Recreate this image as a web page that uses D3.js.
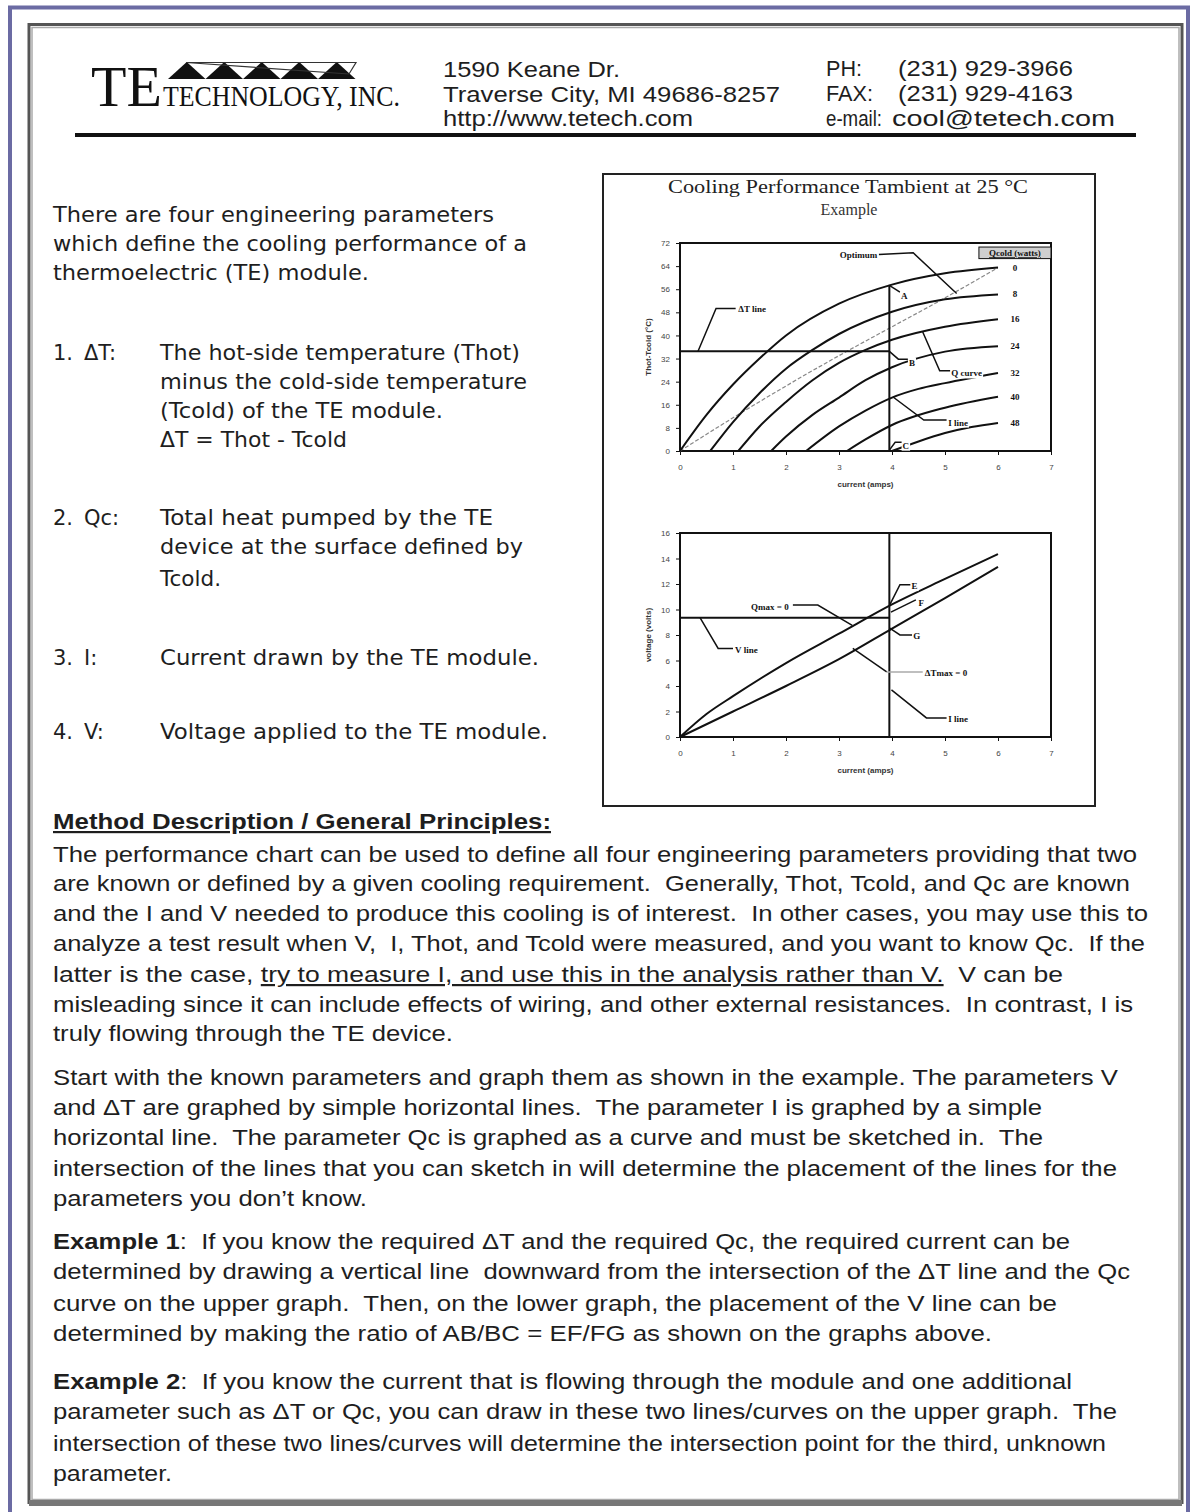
<!DOCTYPE html>
<html>
<head>
<meta charset="utf-8">
<script src="https://cdn.jsdelivr.net/npm/d3@7"></script>
<style>
  body { margin: 0; background: #fff; }
  .doc { font-family: "DejaVu Sans", Verdana, sans-serif; font-size: 21px; fill: #1e1e1e; }
  .body { font-family: "Liberation Sans", Arial, sans-serif; font-size: 22px; fill: #1e1e1e; }
  .tick text { font-family: "Liberation Sans", Arial, sans-serif; font-size: 8px; fill: #444; }
  .ann { font-family: "Liberation Serif", "Times New Roman", serif; font-size: 9px; font-weight: bold; fill: #111; }
</style>
</head>
<body>
<div id="page"></div>
<script>
var width = 1191,
    height = 1512;

// ---- chart data ----
var currentTicks = [0, 1, 2, 3, 4, 5, 6, 7];
var dtTicks = [0, 8, 16, 24, 32, 40, 48, 56, 64, 72];
var voltTicks = [0, 2, 4, 6, 8, 10, 12, 14, 16];
var qcLevels = [0, 8, 16, 24, 32, 40, 48];

// Qc curves: [current, deltaT]
var qc0 = [[0, 0], [0.5, 12.5], [1, 23], [1.5, 32], [2, 40], [3, 51], [4, 57.6], [5, 61.5], [6, 63.5]];
var qc8 = [[0.57, 0], [1, 10], [1.5, 20], [2, 28.5], [2.5, 35], [3, 40.5], [4, 48.2], [5, 52.5], [6, 54.2]];
var qc16 = [[1.1, 0], [1.5, 8.5], [2, 17], [2.5, 24.5], [3, 30.5], [3.5, 35], [4, 38.5], [5, 43], [6, 45.6]];
var qc24 = [[1.72, 0], [2, 5], [2.5, 12.5], [3, 18.5], [3.5, 24.5], [4, 29], [5, 34.4], [6, 36.3]];
var qc32 = [[2.38, 0], [3, 8.5], [3.5, 14], [4, 18.5], [4.5, 21.5], [5, 23.5], [6, 27]];
var qc40 = [[3.15, 0], [3.5, 4], [4, 9], [5, 15], [6, 18.8]];
var qc48 = [[4.0, 0], [4.5, 3.3], [5, 6.2], [5.5, 8.3], [6, 9.7]];
var qcCurves = [qc0, qc8, qc16, qc24, qc32, qc40, qc48];

var optimum = [[0, 0], [1, 11.5], [2, 22.5], [3, 33], [4, 43], [5, 53], [6, 63.5]];

// voltage lines: [current, volts]
var qmaxZero = [[0, 0], [0.5, 1.8], [1, 3.2], [2, 5.8], [3, 8.1], [4, 10.4], [5, 12.4], [6, 14.35]];
var dtmaxZero = [[0, 0], [1, 2.0], [2, 4.0], [3, 6.1], [4, 8.5], [5, 10.9], [6, 13.35]];

var iLine = 3.95,
    iLineTop = 57.5,
    dtLine = 34.5,
    vLine = 9.35;

// ---- page text ----
var addressLines = ['1590 Keane Dr.', 'Traverse City, MI 49686-8257', 'http://www.tetech.com'];
var contactLabels = ['PH:', 'FAX:', 'e-mail:'];
var contactValues = ['(231) 929-3966', '(231) 929-4163', 'cool@tetech.com'];

var introLines = [
    ['There are four engineering parameters', 222, 441],
    ['which define the cooling performance of a', 251, 474],
    ['thermoelectric (TE) module.', 280, 316]
];
var paramItems = [
    { num: '1.', key: '\u0394T:', y: 360, lines: [
        ['The hot-side temperature (Thot)', 360, 360],
        ['minus the cold-side temperature', 389, 367],
        ['(Tcold) of the TE module.', 418, 283],
        ['\u0394T = Thot - Tcold', 447, 187]] },
    { num: '2.', key: 'Qc:', y: 525, lines: [
        ['Total heat pumped by the TE', 525, 333],
        ['device at the surface defined by', 554, 363],
        ['Tcold.', 586, 61]] },
    { num: '3.', key: 'I:', y: 665, lines: [
        ['Current drawn by the TE module.', 665, 379]] },
    { num: '4.', key: 'V:', y: 739, lines: [
        ['Voltage applied to the TE module.', 739, 388]] }
];

var methodLines = [
    [[['The performance chart can be used to define all four engineering parameters providing that two']], 862, 1084],
    [[['are known or defined by a given cooling requirement.  Generally, Thot, Tcold, and Qc are known']], 891, 1077],
    [[['and the I and V needed to produce this cooling is of interest.  In other cases, you may use this to']], 921, 1095],
    [[['analyze a test result when V,  I, Thot, and Tcold were measured, and you want to know Qc.  If the']], 951, 1092],
    [[['latter is the case, '], ['try to measure I, and use this in the analysis rather than V.', 'u'], ['  V can be']], 982, 1010],
    [[['misleading since it can include effects of wiring, and other external resistances.  In contrast, I is']], 1012, 1080],
    [[['truly flowing through the TE device.']], 1041, 400],
    [[['Start with the known parameters and graph them as shown in the example. The parameters V']], 1085, 1065],
    [[['and \u0394T are graphed by simple horizontal lines.  The parameter I is graphed by a simple']], 1115, 989],
    [[['horizontal line.  The parameter Qc is graphed as a curve and must be sketched in.  The']], 1145, 990],
    [[['intersection of the lines that you can sketch in will determine the placement of the lines for the']], 1176, 1064],
    [[['parameters you don\u2019t know.']], 1206, 314],
    [[['Example 1', 'b'], [':  If you know the required \u0394T and the required Qc, the required current can be']], 1249, 1017],
    [[['determined by drawing a vertical line  downward from the intersection of the \u0394T line and the Qc']], 1279, 1077],
    [[['curve on the upper graph.  Then, on the lower graph, the placement of the V line can be']], 1311, 1004],
    [[['determined by making the ratio of AB/BC = EF/FG as shown on the graphs above.']], 1341, 939],
    [[['Example 2', 'b'], [':  If you know the current that is flowing through the module and one additional']], 1389, 1019],
    [[['parameter such as \u0394T or Qc, you can draw in these two lines/curves on the upper graph.  The']], 1419, 1064],
    [[['intersection of these two lines/curves will determine the intersection point for the third, unknown']], 1451, 1053],
    [[['parameter.']], 1481, 119]
];

var svg = d3.select('#page')
    .append('svg')
    .attr('width', width)
    .attr('height', height);

// ---- page frames ----
svg.append('rect')
    .attr('x', 10).attr('y', 7.5)
    .attr('width', 1178).attr('height', 1512)
    .attr('fill', 'none')
    .attr('stroke', '#6b6ba3')
    .attr('stroke-width', 4);

svg.append('rect')
    .attr('x', 29).attr('y', 24.5)
    .attr('width', 1153).attr('height', 1478)
    .attr('fill', '#fff')
    .attr('stroke', '#555')
    .attr('stroke-width', 3);

svg.append('rect')
    .attr('x', 32).attr('y', 27.5)
    .attr('width', 1147).attr('height', 1472)
    .attr('fill', 'none')
    .attr('stroke', '#aaa')
    .attr('stroke-width', 1.5);

svg.append('rect')
    .attr('x', 29).attr('y', 1500)
    .attr('width', 1153).attr('height', 6)
    .attr('fill', '#777');

// ---- header ----
var head = svg.append('g');

head.append('text')
    .attr('x', 91).attr('y', 106)
    .attr('font-family', '"Liberation Serif", "Times New Roman", serif')
    .attr('font-size', 58)
    .attr('fill', '#111')
    .text('TE');

head.append('text')
    .attr('x', 163).attr('y', 106)
    .attr('font-family', '"Liberation Serif", "Times New Roman", serif')
    .attr('font-size', 30)
    .attr('fill', '#111')
    .attr('textLength', 237)
    .attr('lengthAdjust', 'spacingAndGlyphs')
    .text('TECHNOLOGY, INC.');

var triW = 37.5;
head.selectAll('.tri')
    .data(d3.range(5))
    .enter()
    .append('path')
    .attr('class', 'tri')
    .attr('d', function (d) {
        var x0 = 168 + d * triW;
        return 'M' + x0 + ',79L' + (x0 + triW / 2) + ',62L' + (x0 + triW) + ',79Z';
    })
    .attr('fill', '#111');

head.append('path')
    .attr('d', 'M186,62.5L356,62.5L349,74Z')
    .attr('fill', 'none')
    .attr('stroke', '#333')
    .attr('stroke-width', 1.2);

var addrW = [177, 337, 250];
head.selectAll('.addr')
    .data(addressLines)
    .enter()
    .append('text')
    .attr('class', 'addr')
    .attr('x', 443)
    .attr('y', function (d, i) { return 77 + i * 24.5; })
    .attr('font-family', '"Liberation Sans", Arial, sans-serif')
    .attr('font-size', 22)
    .attr('fill', '#1e1e1e')
    .attr('textLength', function (d, i) { return addrW[i]; })
    .attr('lengthAdjust', 'spacingAndGlyphs')
    .text(function (d) { return d; });

var labW = [36, 47, 56];
head.selectAll('.clab')
    .data(contactLabels)
    .enter()
    .append('text')
    .attr('class', 'clab')
    .attr('x', 826)
    .attr('y', function (d, i) { return 76 + i * 25; })
    .attr('font-family', '"Liberation Sans", Arial, sans-serif')
    .attr('font-size', 22)
    .attr('fill', '#1e1e1e')
    .attr('textLength', function (d, i) { return labW[i]; })
    .attr('lengthAdjust', 'spacingAndGlyphs')
    .text(function (d) { return d; });

var valX = [898, 898, 892],
    valW = [175, 175, 223];
head.selectAll('.cval')
    .data(contactValues)
    .enter()
    .append('text')
    .attr('class', 'cval')
    .attr('x', function (d, i) { return valX[i]; })
    .attr('y', function (d, i) { return 76 + i * 25; })
    .attr('font-family', '"Liberation Sans", Arial, sans-serif')
    .attr('font-size', 22)
    .attr('fill', '#1e1e1e')
    .attr('textLength', function (d, i) { return valW[i]; })
    .attr('lengthAdjust', 'spacingAndGlyphs')
    .text(function (d) { return d; });

head.append('line')
    .attr('x1', 75).attr('x2', 1136)
    .attr('y1', 135).attr('y2', 135)
    .attr('stroke', '#111')
    .attr('stroke-width', 4);

// ---- left-hand text ----
var doc = svg.append('g').attr('class', 'doc');

doc.selectAll('.intro')
    .data(introLines)
    .enter()
    .append('text')
    .attr('x', 53)
    .attr('y', function (d) { return d[1]; })
    .attr('textLength', function (d) { return d[2]; })
    .attr('lengthAdjust', 'spacingAndGlyphs')
    .text(function (d) { return d[0]; });

paramItems.forEach(function (p) {
    doc.append('text').attr('x', 53).attr('y', p.y).text(p.num);
    doc.append('text').attr('x', 84).attr('y', p.y).text(p.key);
    p.lines.forEach(function (l) {
        doc.append('text')
            .attr('x', 160)
            .attr('y', l[1])
            .attr('textLength', l[2])
            .attr('lengthAdjust', 'spacingAndGlyphs')
            .text(l[0]);
    });
});

// ---- method text ----
var body = svg.append('g').attr('class', 'body');

body.append('text')
    .attr('x', 53).attr('y', 829)
    .attr('font-weight', 'bold')
    .attr('text-decoration', 'underline')
    .attr('textLength', 498)
    .attr('lengthAdjust', 'spacingAndGlyphs')
    .text('Method Description / General Principles:');

methodLines.forEach(function (l) {
    var t = body.append('text')
        .attr('x', 53)
        .attr('y', l[1])
        .attr('textLength', l[2])
        .attr('lengthAdjust', 'spacingAndGlyphs')
        .style('white-space', 'pre');
    l[0].forEach(function (seg) {
        var s = t.append('tspan').text(seg[0]);
        if (seg[1] === 'b') s.attr('font-weight', 'bold');
        if (seg[1] === 'u') s.attr('text-decoration', 'underline');
    });
});

// ---- chart panel ----
var panel = svg.append('g');

panel.append('rect')
    .attr('x', 603).attr('y', 174)
    .attr('width', 492).attr('height', 632)
    .attr('fill', '#fff')
    .attr('stroke', '#222')
    .attr('stroke-width', 2);

panel.append('text')
    .attr('x', 668).attr('y', 193)
    .attr('font-family', '"Liberation Serif", "Times New Roman", serif')
    .attr('font-size', 18)
    .attr('fill', '#222')
    .attr('textLength', 360)
    .attr('lengthAdjust', 'spacingAndGlyphs')
    .text('Cooling Performance Tambient at 25 \u00B0C');

panel.append('text')
    .attr('x', 849).attr('y', 215)
    .attr('text-anchor', 'middle')
    .attr('font-family', '"Liberation Serif", "Times New Roman", serif')
    .attr('font-size', 16)
    .attr('fill', '#333')
    .text('Example');

var x = d3.scaleLinear().domain([0, 7]).range([680, 1051]);
var yT = d3.scaleLinear().domain([0, 72]).range([451, 243]);
var yV = d3.scaleLinear().domain([0, 16]).range([737, 533]);

function drawAxes(g, y, ticks, yTitle) {
    var x0 = x.range()[0], x1 = x.range()[1],
        y0 = y.range()[0], y1 = y.range()[1];

    g.append('g')
        .attr('transform', 'translate(0,' + y0 + ')')
        .call(d3.axisBottom(x).tickValues(currentTicks).tickSize(4).tickPadding(9).tickFormat(d3.format('d')))
        .call(function (a) { a.select('.domain').remove(); a.selectAll('line').attr('stroke', '#111'); });

    g.append('g')
        .attr('transform', 'translate(' + x0 + ',0)')
        .call(d3.axisLeft(y).tickValues(ticks).tickSize(4).tickPadding(6).tickFormat(d3.format('d')))
        .call(function (a) { a.select('.domain').remove(); a.selectAll('line').attr('stroke', '#111'); });

    g.append('rect')
        .attr('x', x0).attr('y', y1)
        .attr('width', x1 - x0).attr('height', y0 - y1)
        .attr('fill', 'none')
        .attr('stroke', '#111')
        .attr('stroke-width', 2);

    g.append('text')
        .attr('x', (x0 + x1) / 2)
        .attr('y', y0 + 36)
        .attr('text-anchor', 'middle')
        .attr('font-family', '"Liberation Sans", Arial, sans-serif')
        .attr('font-size', 8)
        .attr('font-weight', 'bold')
        .attr('fill', '#333')
        .text('current (amps)');

    g.append('text')
        .attr('transform', 'translate(' + (x0 - 29) + ',' + ((y0 + y1) / 2) + ') rotate(-90)')
        .attr('text-anchor', 'middle')
        .attr('font-family', '"Liberation Sans", Arial, sans-serif')
        .attr('font-size', 8)
        .attr('font-weight', 'bold')
        .attr('fill', '#333')
        .text(yTitle);
}

function label(g, str, px, py, anchor) {
    var t = g.append('text')
        .attr('class', 'ann')
        .attr('x', px)
        .attr('y', py)
        .attr('text-anchor', anchor || 'start')
        .text(str);
    var b = t.node().getBBox();
    g.insert('rect', function () { return t.node(); })
        .attr('x', b.x - 1).attr('y', b.y)
        .attr('width', b.width + 2).attr('height', b.height)
        .attr('fill', '#fff');
    return t;
}

function leader(g, pts, y, color) {
    g.append('path')
        .attr('d', d3.line().x(function (d) { return x(d[0]); }).y(function (d) { return y(d[1]); })(pts))
        .attr('fill', 'none')
        .attr('stroke', color || '#111')
        .attr('stroke-width', 1.5);
}

// upper chart
var upper = panel.append('g');
drawAxes(upper, yT, dtTicks, 'Thot-Tcold (\u00B0C)');

var lineT = d3.line()
    .x(function (d) { return x(d[0]); })
    .y(function (d) { return yT(d[1]); })
    .curve(d3.curveMonotoneX);

upper.append('path')
    .attr('d', lineT(optimum))
    .attr('fill', 'none')
    .attr('stroke', '#888')
    .attr('stroke-width', 1.2)
    .attr('stroke-dasharray', '4,2');

upper.selectAll('.qc')
    .data(qcCurves)
    .enter()
    .append('path')
    .attr('class', 'qc')
    .attr('d', lineT)
    .attr('fill', 'none')
    .attr('stroke', '#111')
    .attr('stroke-width', 2);

upper.append('line')
    .attr('x1', x(0)).attr('x2', x(iLine))
    .attr('y1', yT(dtLine)).attr('y2', yT(dtLine))
    .attr('stroke', '#111').attr('stroke-width', 2);

upper.append('line')
    .attr('x1', x(iLine)).attr('x2', x(iLine))
    .attr('y1', yT(0)).attr('y2', yT(iLineTop))
    .attr('stroke', '#111').attr('stroke-width', 2);

upper.selectAll('.qlab')
    .data(qcLevels)
    .enter()
    .append('text')
    .attr('class', 'ann')
    .attr('x', x(6.32))
    .attr('y', function (d, i) {
        var c = qcCurves[i];
        return yT(c[c.length - 1][1]) + 3;
    })
    .attr('text-anchor', 'middle')
    .text(function (d) { return d; });

// legend header
upper.append('rect')
    .attr('x', x(5.64)).attr('y', yT(70.6))
    .attr('width', x(7) - x(5.64)).attr('height', yT(66.6) - yT(70.6))
    .attr('fill', '#cfcfcf')
    .attr('stroke', '#111');
upper.append('text')
    .attr('class', 'ann')
    .attr('x', x(6.32)).attr('y', yT(67.4))
    .attr('text-anchor', 'middle')
    .attr('font-size', 8)
    .attr('text-decoration', 'underline')
    .text('Qcold (watts)');

leader(upper, [[3.75, 68], [4.4, 68.6], [5.22, 54.5]], yT);
label(upper, 'Optimum', x(3.72), yT(66.8), 'end');

leader(upper, [[0.34, dtLine], [0.68, 49.3], [1.05, 49.3]], yT);
label(upper, '\u0394T line', x(1.1), yT(48.2));

leader(upper, [[iLine, 57.3], [4.15, 55]], yT);
label(upper, 'A', x(4.17), yT(52.5));

leader(upper, [[iLine, dtLine], [4.12, 31.8], [4.3, 31.8]], yT);
label(upper, 'B', x(4.32), yT(29.5));

leader(upper, [[iLine, 0.3], [4.06, 3], [4.2, 3]], yT);
label(upper, 'C', x(4.2), yT(0.8));

leader(upper, [[4.58, 41.2], [4.9, 27.8], [5.1, 27.8]], yT);
label(upper, 'Q curve', x(5.12), yT(25.8));

leader(upper, [[4.02, 18.7], [4.6, 10.7], [5.03, 10.7]], yT);
label(upper, 'I line', x(5.06), yT(8.8));

// lower chart
var lower = panel.append('g');
drawAxes(lower, yV, voltTicks, 'voltage (volts)');

var lineV = d3.line()
    .x(function (d) { return x(d[0]); })
    .y(function (d) { return yV(d[1]); })
    .curve(d3.curveMonotoneX);

lower.selectAll('.vl')
    .data([qmaxZero, dtmaxZero])
    .enter()
    .append('path')
    .attr('class', 'vl')
    .attr('d', lineV)
    .attr('fill', 'none')
    .attr('stroke', '#111')
    .attr('stroke-width', 2);

lower.append('line')
    .attr('x1', x(0)).attr('x2', x(iLine))
    .attr('y1', yV(vLine)).attr('y2', yV(vLine))
    .attr('stroke', '#111').attr('stroke-width', 2);

lower.append('line')
    .attr('x1', x(iLine)).attr('x2', x(iLine))
    .attr('y1', yV(0)).attr('y2', yV(16))
    .attr('stroke', '#111').attr('stroke-width', 2);

leader(lower, [[2.13, 10.35], [2.6, 10.35], [3.25, 8.75]], yV);
label(lower, 'Qmax = 0', x(2.05), yV(9.95), 'end');

leader(lower, [[0.38, vLine], [0.72, 6.95], [1.0, 6.95]], yV);
label(lower, 'V line', x(1.04), yV(6.6));

leader(lower, [[3.26, 6.95], [3.9, 5.1]], yV);
leader(lower, [[3.9, 5.1], [4.58, 5.1]], yV, '#aaa');
label(lower, '\u0394Tmax = 0', x(4.62), yV(4.75));

leader(lower, [[3.99, 3.7], [4.65, 1.5], [5.03, 1.5]], yV);
label(lower, 'I line', x(5.06), yV(1.15));

leader(lower, [[iLine, 10.3], [4.15, 11.95], [4.35, 11.95]], yV);
label(lower, 'E', x(4.37), yV(11.6));

leader(lower, [[3.98, 9.8], [4.45, 10.75]], yV);
label(lower, 'F', x(4.5), yV(10.3));

leader(lower, [[iLine, 8.55], [4.15, 8.0], [4.38, 8.0]], yV);
label(lower, 'G', x(4.4), yV(7.65));
</script>
</body>
</html>
